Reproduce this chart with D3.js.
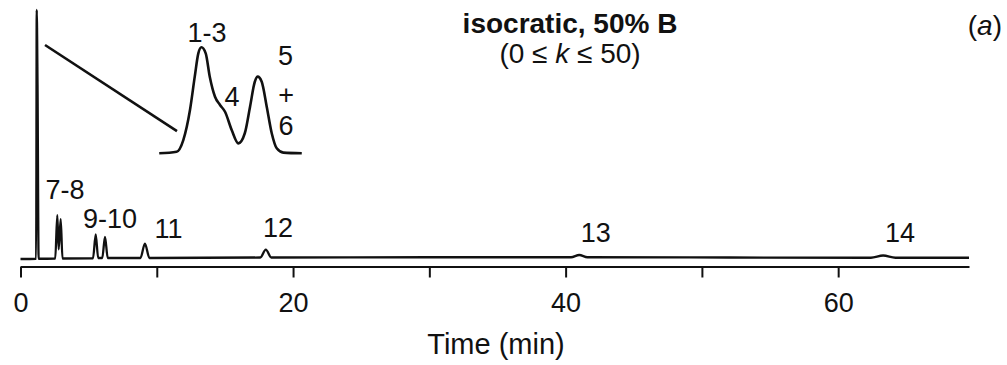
<!DOCTYPE html>
<html>
<head>
<meta charset="utf-8">
<script src="https://cdn.jsdelivr.net/npm/d3@7"></script>
<style>
  html, body { margin: 0; padding: 0; background: #fff; }
  svg { display: block; font-family: "Liberation Sans", Arial, Helvetica, sans-serif; }
</style>
</head>
<body>
<svg id="chart" width="1007" height="365"></svg>
<script>
// Chromatogram, isocratic 50% B: time (min) vs detector signal (arbitrary units)
const traceTime = [0, 1.15, 1.19, 1.25, 1.33, 2.55, 2.70, 2.80, 2.95, 3.08, 5.32, 5.52, 5.70, 6.00, 6.20, 6.40,
  8.80, 9.13, 9.46, 17.6, 18.0, 18.4, 30.0, 40.4, 41.0, 41.6, 52.0, 62.4, 63.3, 64.2, 69.6];
const traceSignal = [-0.4, -0.3, 100, 70, -0.3, -0.2, 17.3, 3.5, 15.7, -0.2, -0.1, 9.5, 0, 0, 8.5, 0,
  0, 5.8, 0, 0.2, 3.4, 0.2, 0.3, 0.3, 1.2, 0.3, 0.2, 0.1, 1.0, 0.1, 0.1];

// Peak labels placed in data coordinates (time, signal)
const peakLabels = ["7-8", "9-10", "11", "12", "13", "14"];
const peakLabelTime = [3.26, 6.57, 10.86, 18.89, 42.22, 64.53];
const peakLabelSignal = [23.8, 12.1, 8.1, 8.5, 6.45, 6.45];

// Expanded view of the early-eluting group (peaks 1-6)
const insetTime = [1.001, 1.074, 1.102, 1.130, 1.150, 1.165, 1.178, 1.196, 1.213, 1.235, 1.256, 1.277,
  1.305, 1.333, 1.360, 1.382, 1.402, 1.414, 1.431, 1.452, 1.473, 1.494, 1.522, 1.599];
const insetSignal = [0, 1.5, 12.5, 40.8, 72.3, 94.3, 100, 94.3, 72.3, 53.4, 45.6, 39.2,
  22.0, 9.4, 18.9, 44.0, 67.5, 72.3, 67.5, 44.0, 18.9, 4.7, 0.6, 0];
const insetLabels = ["1-3", "4", "5", "+", "6"];
const insetLabelTime = [1.201, 1.306, 1.531, 1.533, 1.533];
const insetLabelSignal = [105, 44.6, 83.3, 46.5, 17.3];

// Axis ticks
const tickValues = [0, 10, 20, 30, 40, 50, 60];
const tickLabels = ["0", "", "20", "", "40", "", "60"];

const ink = "#111";
const svg = d3.select("#chart");

const x = d3.scaleLinear().domain([0, 69.6]).range([20.5, 969]);
const y = d3.scaleLinear().domain([0, 100]).range([258, 10]);

const xi = d3.scaleLinear().domain([1.0, 1.6]).range([159, 302]);
const yi = d3.scaleLinear().domain([0, 100]).range([153.3, 47.3]);

// Time axis
const axisY = 266.5;
const axis = d3.axisBottom(x)
  .tickValues(tickValues)
  .tickFormat((d, i) => tickLabels[i])
  .tickSize(11)
  .tickSizeOuter(0);
const gAxis = svg.append("g").attr("transform", `translate(0,${axisY})`).call(axis);
gAxis.select(".domain").attr("stroke", ink).attr("stroke-width", 2.2);
gAxis.selectAll(".tick line").attr("stroke", ink).attr("stroke-width", 2);
gAxis.selectAll(".tick text")
  .attr("y", 45.5).attr("dy", 0)
  .attr("fill", ink)
  .style("font-size", "27px")
  .style("font-family", "'Liberation Sans', Arial, sans-serif");

svg.append("text")
  .attr("x", 496).attr("y", 354)
  .attr("text-anchor", "middle")
  .attr("fill", ink)
  .style("font-size", "29px")
  .text("Time (min)");

// Main trace
const tracePts = traceTime.map((t, i) => [t, traceSignal[i]]);
const line = d3.line().x(d => x(d[0])).y(d => y(d[1])).curve(d3.curveMonotoneX);
svg.append("path")
  .datum(tracePts)
  .attr("d", line)
  .attr("fill", "none")
  .attr("stroke", ink)
  .attr("stroke-width", 2.3)
  .attr("stroke-linejoin", "round");

svg.append("g").selectAll("text")
  .data(peakLabels)
  .join("text")
  .attr("x", (d, i) => x(peakLabelTime[i]))
  .attr("y", (d, i) => y(peakLabelSignal[i]))
  .attr("text-anchor", "middle")
  .attr("fill", ink)
  .style("font-size", "27px")
  .text(d => d);

// Connector from the unretained peak to the expanded view
svg.append("line")
  .attr("x1", x(1.80)).attr("y1", y(85.9))
  .attr("x2", xi(1.0755)).attr("y2", yi(21))
  .attr("stroke", ink)
  .attr("stroke-width", 2.6);

// Expanded view
const insetPts = insetTime.map((t, i) => [t, insetSignal[i]]);
const insetLine = d3.line().x(d => xi(d[0])).y(d => yi(d[1])).curve(d3.curveMonotoneX);
svg.append("path")
  .datum(insetPts)
  .attr("d", insetLine)
  .attr("fill", "none")
  .attr("stroke", ink)
  .attr("stroke-width", 2.6)
  .attr("stroke-linejoin", "round");

svg.append("g").selectAll("text")
  .data(insetLabels)
  .join("text")
  .attr("x", (d, i) => xi(insetLabelTime[i]))
  .attr("y", (d, i) => yi(insetLabelSignal[i]))
  .attr("text-anchor", "middle")
  .attr("fill", ink)
  .style("font-size", "27px")
  .text(d => d);

// Conditions
svg.append("text")
  .attr("x", 570).attr("y", 33)
  .attr("text-anchor", "middle")
  .attr("fill", ink)
  .style("font-size", "28px")
  .style("font-weight", "bold")
  .text("isocratic, 50% B");

const sub = svg.append("text")
  .attr("x", 570).attr("y", 63)
  .attr("text-anchor", "middle")
  .attr("fill", ink)
  .style("font-size", "28px");
sub.append("tspan").text("(0 \u2264 ");
sub.append("tspan").style("font-style", "italic").text("k");
sub.append("tspan").text(" \u2264 50)");

const panel = svg.append("text")
  .attr("x", 1002).attr("y", 35)
  .attr("text-anchor", "end")
  .attr("fill", ink)
  .style("font-size", "28px");
panel.append("tspan").text("(");
panel.append("tspan").style("font-style", "italic").text("a");
panel.append("tspan").text(")");
</script>
</body>
</html>
